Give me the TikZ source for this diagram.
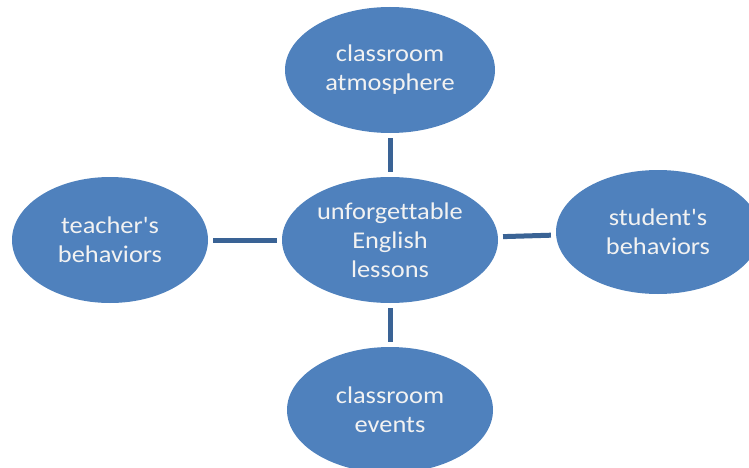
\documentclass[tikz,border=0pt]{standalone}
\usepackage{fontspec}
\setmainfont{Carlito}[FakeStretch=1.1, Ligatures={TeXOff,CommonOff}]
\usepackage{tikz}
\usetikzlibrary{shapes.geometric,positioning,calc}

\definecolor{ovalblue}{HTML}{4F81BD}
\definecolor{linkblue}{HTML}{3A6395}

\begin{document}
\begin{tikzpicture}[
        x=1pt, y=-1pt,
        every node/.style={font=\fontsize{24}{29}\selectfont},
        oval/.style={ellipse, fill=ovalblue, text=white!95!black, align=center, inner sep=0pt, minimum width=#1},
        oval/.default=206pt,
        link/.style={draw=linkblue, line width=5pt, shorten <=5pt, shorten >=5pt}
        ]

        % Frame of the picture
        \useasboundingbox (0, 0) rectangle (749, 468);

        % Centre topic and the four ovals around it
        \node[oval=216pt, minimum height=126pt] (topic) at (390, 240) {unforgettable\\English\\lessons};
        \node[oval=210pt, minimum height=126pt] (atmos) at (390, 70) {classroom\\atmosphere};
        \node[oval=196pt, minimum height=126pt] (teacher) at (110, 240) {teacher's\\behaviors};
        \node[oval=204pt, minimum height=124pt] (student) at (658, 232) {student's\\behaviors};
        \node[oval=206pt, minimum height=126pt] (events) at (390, 410) {classroom\\events};

        % Links to the centre
        \draw[link] (atmos) -- (topic);
        \draw[link] (teacher) -- (topic);
        \draw[link] (topic) -- (student);
        \draw[link] (topic) -- (events);

    \end{tikzpicture}
\end{document}
